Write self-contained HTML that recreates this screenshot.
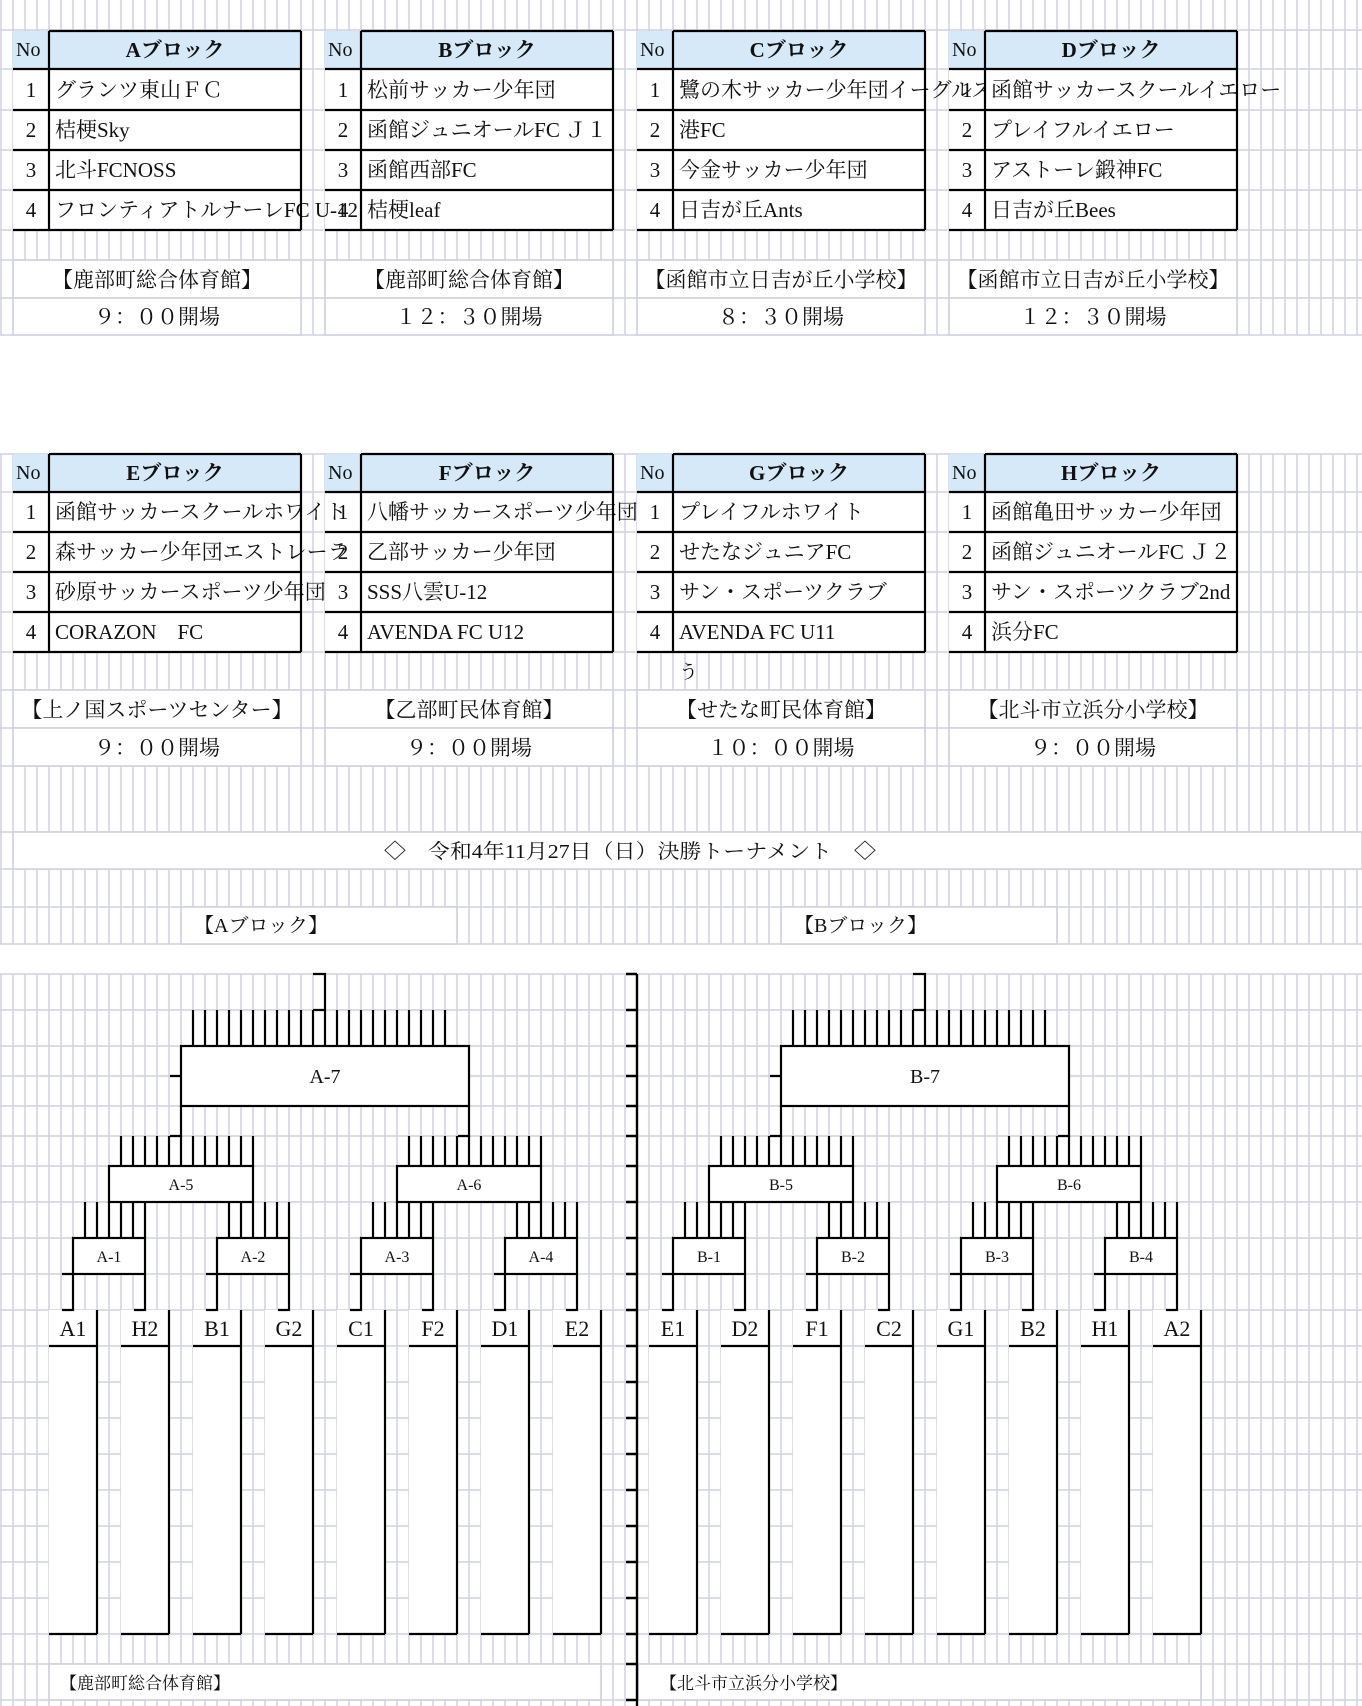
<!DOCTYPE html>
<html><head><meta charset="utf-8"><style>
html,body{margin:0;padding:0;background:#fff;}
svg{display:block;}
text{font-family:"Liberation Serif","Noto Serif CJK SC","Noto Serif CJK JP",serif;fill:#111;}
</style></head><body>
<svg width="1362" height="1706" viewBox="0 0 1362 1706" xmlns="http://www.w3.org/2000/svg">
<defs>
<pattern id="v" x="0" y="0" width="12" height="20" patternUnits="userSpaceOnUse"><rect x="0.3" y="0" width="1.5" height="20" fill="#d0d0e0"/></pattern>
</defs>
<rect width="1362" height="1706" fill="#fff"/>
<rect x="0" y="0" width="1362" height="335" fill="url(#v)"/>
<rect x="0" y="454" width="1362" height="490" fill="url(#v)"/>
<rect x="0" y="974" width="1362" height="732" fill="url(#v)"/>
<g stroke="#d0d0e0" stroke-width="1.6">
<path d="M0 30H1362M0 69H1362M0 110H1362M0 150H1362M0 190H1362M0 230H1362M0 260H1362M0 298H1362M0 335H1362"/>
<path d="M0 454H1362M0 492H1362M0 532H1362M0 572H1362M0 612H1362M0 652H1362M0 690H1362M0 728H1362M0 766H1362M0 832H1362M0 869H1362M0 907H1362M0 944H1362"/>
<path d="M0 974H1362M0 1010H1362M0 1046H1362M0 1076H1362M0 1106H1362M0 1136H1362M0 1166H1362M0 1202H1362M0 1238H1362M0 1274H1362M0 1310H1362M0 1346H1362M0 1382H1362M0 1418H1362M0 1454H1362M0 1490H1362M0 1526H1362M0 1562H1362M0 1598H1362M0 1634H1362M0 1664H1362M0 1700H1362"/>
</g>
<!-- backgrounds for tables -->
<g>
<rect x="13" y="31" width="288" height="38" fill="#d5e9f9"/><rect x="13" y="69" width="288" height="161" fill="#fff"/>
<rect x="325" y="31" width="288" height="38" fill="#d5e9f9"/><rect x="325" y="69" width="288" height="161" fill="#fff"/>
<rect x="637" y="31" width="288" height="38" fill="#d5e9f9"/><rect x="637" y="69" width="288" height="161" fill="#fff"/>
<rect x="949" y="31" width="288" height="38" fill="#d5e9f9"/><rect x="949" y="69" width="288" height="161" fill="#fff"/>
<rect x="13" y="454" width="288" height="38" fill="#d5e9f9"/><rect x="13" y="492" width="288" height="160" fill="#fff"/>
<rect x="325" y="454" width="288" height="38" fill="#d5e9f9"/><rect x="325" y="492" width="288" height="160" fill="#fff"/>
<rect x="637" y="454" width="288" height="38" fill="#d5e9f9"/><rect x="637" y="492" width="288" height="160" fill="#fff"/>
<rect x="949" y="454" width="288" height="38" fill="#d5e9f9"/><rect x="949" y="492" width="288" height="160" fill="#fff"/>
</g>
<!-- location cells -->
<g fill="#fff" stroke="#d0d0e0" stroke-width="1.6">
<rect x="13" y="260" width="288" height="38"/><rect x="13" y="298" width="288" height="37"/>
<rect x="325" y="260" width="288" height="38"/><rect x="325" y="298" width="288" height="37"/>
<rect x="637" y="260" width="288" height="38"/><rect x="637" y="298" width="288" height="37"/>
<rect x="949" y="260" width="288" height="38"/><rect x="949" y="298" width="288" height="37"/>
<rect x="13" y="690" width="288" height="38"/><rect x="13" y="728" width="288" height="38"/>
<rect x="325" y="690" width="288" height="38"/><rect x="325" y="728" width="288" height="38"/>
<rect x="637" y="690" width="288" height="38"/><rect x="637" y="728" width="288" height="38"/>
<rect x="949" y="690" width="288" height="38"/><rect x="949" y="728" width="288" height="38"/>
<rect x="13" y="832" width="1349" height="37"/>
<rect x="181" y="907" width="276" height="37"/>
<rect x="781" y="907" width="276" height="37"/>
<rect x="49" y="1664" width="552" height="36"/>
<rect x="638" y="1664" width="563" height="36"/>
</g>

<!-- ===== Set 1 ===== -->
<g font-size="21">
<!-- A -->
<text x="16" y="56" font-size="20">No</text>
<text x="175" y="57" text-anchor="middle" font-weight="bold">Aブロック</text>
<text x="31" y="97" text-anchor="middle">1</text><text x="55" y="97">グランツ東山ＦＣ</text>
<text x="31" y="137" text-anchor="middle">2</text><text x="55" y="137">桔梗Sky</text>
<text x="31" y="177" text-anchor="middle">3</text><text x="55" y="177">北斗FCNOSS</text>
<text x="31" y="217" text-anchor="middle">4</text><text x="55" y="217">フロンティアトルナーレFC U-12</text>
<!-- B -->
<rect x="361" y="69" width="252" height="161" fill="#fff"/>
<text x="328" y="56" font-size="20">No</text>
<text x="487" y="57" text-anchor="middle" font-weight="bold">Bブロック</text>
<text x="343" y="97" text-anchor="middle">1</text><text x="367" y="97">松前サッカー少年団</text>
<text x="343" y="137" text-anchor="middle">2</text><text x="367" y="137">函館ジュニオールFC Ｊ１</text>
<text x="343" y="177" text-anchor="middle">3</text><text x="367" y="177">函館西部FC</text>
<text x="343" y="217" text-anchor="middle">4</text><text x="367" y="217">桔梗leaf</text>
<!-- C -->
<rect x="673" y="69" width="252" height="161" fill="#fff"/>
<text x="640" y="56" font-size="20">No</text>
<text x="799" y="57" text-anchor="middle" font-weight="bold">Cブロック</text>
<text x="655" y="97" text-anchor="middle">1</text><text x="679" y="97">鷺の木サッカー少年団イーグルス</text>
<text x="655" y="137" text-anchor="middle">2</text><text x="679" y="137">港FC</text>
<text x="655" y="177" text-anchor="middle">3</text><text x="679" y="177">今金サッカー少年団</text>
<text x="655" y="217" text-anchor="middle">4</text><text x="679" y="217">日吉が丘Ants</text>
<!-- D -->
<rect x="985" y="69" width="252" height="161" fill="#fff"/>
<text x="952" y="56" font-size="20">No</text>
<text x="1111" y="57" text-anchor="middle" font-weight="bold">Dブロック</text>
<text x="967" y="97" text-anchor="middle">1</text><text x="991" y="97">函館サッカースクールイエロー</text>
<text x="967" y="137" text-anchor="middle">2</text><text x="991" y="137">プレイフルイエロー</text>
<text x="967" y="177" text-anchor="middle">3</text><text x="991" y="177">アストーレ鍛神FC</text>
<text x="967" y="217" text-anchor="middle">4</text><text x="991" y="217">日吉が丘Bees</text>
</g>
<g stroke="#000" stroke-width="2.2" fill="none">
<path d="M49 31H301M301 31V230M49 31V230M13 69H301M13 110H301M13 150H301M13 190H301M13 230H301"/>
<path d="M361 31H613M613 31V230M361 31V230M325 69H613M325 110H613M325 150H613M325 190H613M325 230H613"/>
<path d="M673 31H925M925 31V230M673 31V230M637 69H925M637 110H925M637 150H925M637 190H925M637 230H925"/>
<path d="M985 31H1237M1237 31V230M985 31V230M949 69H1237M949 110H1237M949 150H1237M949 190H1237M949 230H1237"/>
</g>
<g font-size="21" text-anchor="middle">
<text x="157" y="287">【鹿部町総合体育館】</text><text x="157" y="324">９：００開場</text>
<text x="469" y="287">【鹿部町総合体育館】</text><text x="469" y="324">１２：３０開場</text>
<text x="781" y="287">【函館市立日吉が丘小学校】</text><text x="781" y="324">８：３０開場</text>
<text x="1093" y="287">【函館市立日吉が丘小学校】</text><text x="1093" y="324">１２：３０開場</text>
</g>

<!-- ===== Set 2 ===== -->
<g font-size="21">
<text x="16" y="479" font-size="20">No</text>
<text x="175" y="480" text-anchor="middle" font-weight="bold">Eブロック</text>
<text x="31" y="519" text-anchor="middle">1</text><text x="55" y="519">函館サッカースクールホワイト</text>
<text x="31" y="559" text-anchor="middle">2</text><text x="55" y="559">森サッカー少年団エストレーラ</text>
<text x="31" y="599" text-anchor="middle">3</text><text x="55" y="599">砂原サッカースポーツ少年団</text>
<text x="31" y="639" text-anchor="middle">4</text><text x="55" y="639">CORAZON　FC</text>
<rect x="361" y="492" width="252" height="160" fill="#fff"/>
<text x="328" y="479" font-size="20">No</text>
<text x="487" y="480" text-anchor="middle" font-weight="bold">Fブロック</text>
<text x="343" y="519" text-anchor="middle">1</text><text x="367" y="519">八幡サッカースポーツ少年団</text>
<text x="343" y="559" text-anchor="middle">2</text><text x="367" y="559">乙部サッカー少年団</text>
<text x="343" y="599" text-anchor="middle">3</text><text x="367" y="599">SSS八雲U-12</text>
<text x="343" y="639" text-anchor="middle">4</text><text x="367" y="639">AVENDA FC U12</text>
<rect x="673" y="492" width="252" height="160" fill="#fff"/>
<text x="640" y="479" font-size="20">No</text>
<text x="799" y="480" text-anchor="middle" font-weight="bold">Gブロック</text>
<text x="655" y="519" text-anchor="middle">1</text><text x="679" y="519">プレイフルホワイト</text>
<text x="655" y="559" text-anchor="middle">2</text><text x="679" y="559">せたなジュニアFC</text>
<text x="655" y="599" text-anchor="middle">3</text><text x="679" y="599">サン・スポーツクラブ</text>
<text x="655" y="639" text-anchor="middle">4</text><text x="679" y="639">AVENDA FC U11</text>
<rect x="985" y="492" width="252" height="160" fill="#fff"/>
<text x="952" y="479" font-size="20">No</text>
<text x="1111" y="480" text-anchor="middle" font-weight="bold">Hブロック</text>
<text x="967" y="519" text-anchor="middle">1</text><text x="991" y="519">函館亀田サッカー少年団</text>
<text x="967" y="559" text-anchor="middle">2</text><text x="991" y="559">函館ジュニオールFC Ｊ２</text>
<text x="967" y="599" text-anchor="middle">3</text><text x="991" y="599">サン・スポーツクラブ2nd</text>
<text x="967" y="639" text-anchor="middle">4</text><text x="991" y="639">浜分FC</text>
<text x="679" y="678" font-size="19">う</text>
</g>
<g stroke="#000" stroke-width="2.2" fill="none">
<path d="M49 454H301M301 454V652M49 454V652M13 492H301M13 532H301M13 572H301M13 612H301M13 652H301"/>
<path d="M361 454H613M613 454V652M361 454V652M325 492H613M325 532H613M325 572H613M325 612H613M325 652H613"/>
<path d="M673 454H925M925 454V652M673 454V652M637 492H925M637 532H925M637 572H925M637 612H925M637 652H925"/>
<path d="M985 454H1237M1237 454V652M985 454V652M949 492H1237M949 532H1237M949 572H1237M949 612H1237M949 652H1237"/>
</g>
<g font-size="21" text-anchor="middle">
<text x="157" y="717">【上ノ国スポーツセンター】</text><text x="157" y="755">９：００開場</text>
<text x="469" y="717">【乙部町民体育館】</text><text x="469" y="755">９：００開場</text>
<text x="781" y="717">【せたな町民体育館】</text><text x="781" y="755">１０：００開場</text>
<text x="1093" y="717">【北斗市立浜分小学校】</text><text x="1093" y="755">９：００開場</text>
</g>
<text x="384" y="858" font-size="20" textLength="492" lengthAdjust="spacingAndGlyphs">◇　令和4年11月27日（日）決勝トーナメント　◇</text>
<text x="194" y="932" font-size="20">【Aブロック】</text>
<text x="794" y="932" font-size="20">【Bブロック】</text>

<!-- ===== Bracket ===== -->
<g id="br">
<g fill="#fff">
<rect x="49" y="1310" width="48" height="324"/><rect x="121" y="1310" width="48" height="324"/>
<rect x="193" y="1310" width="48" height="324"/><rect x="265" y="1310" width="48" height="324"/>
<rect x="337" y="1310" width="48" height="324"/><rect x="409" y="1310" width="48" height="324"/>
<rect x="481" y="1310" width="48" height="324"/><rect x="553" y="1310" width="48" height="324"/>
</g>
<g stroke="#000" stroke-width="2.2" fill="#fff">
<rect x="181" y="1046" width="288" height="60"/>
<rect x="109" y="1166" width="144" height="36"/>
<rect x="397" y="1166" width="144" height="36"/>
<rect x="73" y="1238" width="72" height="36"/>
<rect x="217" y="1238" width="72" height="36"/>
<rect x="361" y="1238" width="72" height="36"/>
<rect x="505" y="1238" width="72" height="36"/>
</g>
<g stroke="#000" stroke-width="2.2" fill="none">
<path d="M313 974H325V1010H313"/>
<path d="M193 1010V1046M205 1010V1046M217 1010V1046M229 1010V1046M241 1010V1046M253 1010V1046M265 1010V1046M277 1010V1046M289 1010V1046M301 1010V1046M313 1010V1046M325 1010V1046M337 1010V1046M349 1010V1046M361 1010V1046M373 1010V1046M385 1010V1046M397 1010V1046M409 1010V1046M421 1010V1046M433 1010V1046M445 1010V1046"/>
<path d="M170 1076H181M181 1106V1136H170M469 1106V1136H458"/>
<path d="M121 1136V1166M133 1136V1166M145 1136V1166M157 1136V1166M169 1136V1166M181 1136V1166M193 1136V1166M205 1136V1166M217 1136V1166M229 1136V1166M241 1136V1166M253 1136V1166"/>
<path d="M409 1136V1166M421 1136V1166M433 1136V1166M445 1136V1166M457 1136V1166M469 1136V1166M481 1136V1166M493 1136V1166M505 1136V1166M517 1136V1166M529 1136V1166M541 1136V1166"/>
<path d="M85 1202V1238M97 1202V1238M109 1202V1238M121 1202V1238M133 1202V1238M145 1202V1238M229 1202V1238M241 1202V1238M253 1202V1238M265 1202V1238M277 1202V1238M289 1202V1238M373 1202V1238M385 1202V1238M397 1202V1238M409 1202V1238M421 1202V1238M433 1202V1238M517 1202V1238M529 1202V1238M541 1202V1238M553 1202V1238M565 1202V1238M577 1202V1238"/>
<path d="M62 1274H73V1310H62M145 1274V1310H134M206 1274H217V1310H206M289 1274V1310H278M350 1274H361V1310H350M433 1274V1310H422M494 1274H505V1310H494M577 1274V1310H566"/>
<path d="M97 1310V1634M49 1346H97M49 1634H97M169 1310V1634M121 1346H169M121 1634H169M241 1310V1634M193 1346H241M193 1634H241M313 1310V1634M265 1346H313M265 1634H313M385 1310V1634M337 1346H385M337 1634H385M457 1310V1634M409 1346H457M409 1634H457M529 1310V1634M481 1346H529M481 1634H529M601 1310V1634M553 1346H601M553 1634H601"/>
</g>
</g>
<use href="#br" transform="translate(600,0)"/>
<g stroke="#000" stroke-width="2.4" fill="none">
<path d="M637 974V1706"/>
<path d="M626 974H637M626 1010H637M626 1046H637M626 1076H637M626 1106H637M626 1136H637M626 1166H637M626 1202H637M626 1238H637M626 1274H637M626 1310H637M626 1346H637M626 1382H637M626 1418H637M626 1454H637M626 1490H637M626 1526H637M626 1562H637M626 1598H637M626 1634H637M626 1664H637M626 1700H637"/>
</g>
<g text-anchor="middle">
<text x="325" y="1083" font-size="20">A-7</text>
<text x="181" y="1190" font-size="16">A-5</text>
<text x="469" y="1190" font-size="16">A-6</text>
<text x="109" y="1262" font-size="16">A-1</text>
<text x="253" y="1262" font-size="16">A-2</text>
<text x="397" y="1262" font-size="16">A-3</text>
<text x="541" y="1262" font-size="16">A-4</text>
<text x="925" y="1083" font-size="20">B-7</text>
<text x="781" y="1190" font-size="16">B-5</text>
<text x="1069" y="1190" font-size="16">B-6</text>
<text x="709" y="1262" font-size="16">B-1</text>
<text x="853" y="1262" font-size="16">B-2</text>
<text x="997" y="1262" font-size="16">B-3</text>
<text x="1141" y="1262" font-size="16">B-4</text>
</g>
<g text-anchor="middle" font-size="22">
<text x="73" y="1336">A1</text><text x="145" y="1336">H2</text><text x="217" y="1336">B1</text><text x="289" y="1336">G2</text>
<text x="361" y="1336">C1</text><text x="433" y="1336">F2</text><text x="505" y="1336">D1</text><text x="577" y="1336">E2</text>
<text x="673" y="1336">E1</text><text x="745" y="1336">D2</text><text x="817" y="1336">F1</text><text x="889" y="1336">C2</text>
<text x="961" y="1336">G1</text><text x="1033" y="1336">B2</text><text x="1105" y="1336">H1</text><text x="1177" y="1336">A2</text>
</g>
<text x="60" y="1689" font-size="17">【鹿部町総合体育館】</text>
<text x="660" y="1689" font-size="17">【北斗市立浜分小学校】</text>
</svg>
</body></html>
